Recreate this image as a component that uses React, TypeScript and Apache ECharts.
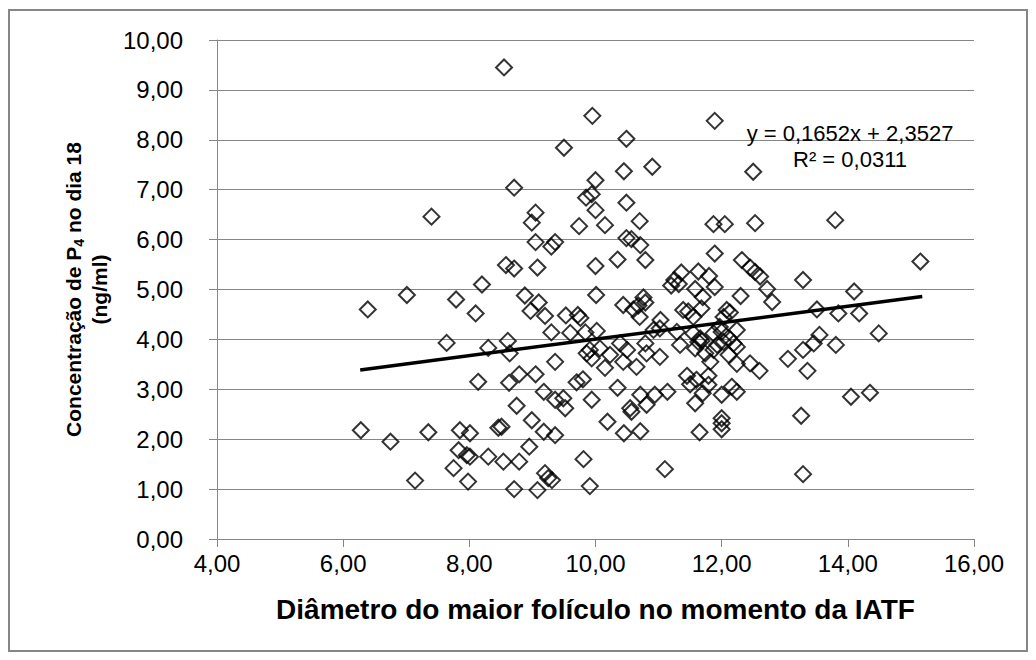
import React, { useEffect, useRef } from "react";
import * as echarts from "echarts";

// Diâmetro do maior folículo (mm) e concentração de P4 (ng/ml), pares por índice
const diametro = [
  8.55, 9.95, 10.49, 9.5, 11.89, 8.71, 10.45, 10.9, 10.0, 12.5,
  9.85, 9.94, 10.0, 10.49, 9.05, 8.99, 10.7, 9.74, 10.15, 11.87,
  12.05, 12.53, 13.8, 7.4, 9.05, 9.3, 9.36, 10.49, 10.57, 10.71,
  10.35, 10.79, 11.89, 12.32, 15.15, 8.58, 8.71, 9.08, 10.0, 8.2,
  11.36, 11.25, 11.32, 11.2, 11.63, 11.8, 11.58, 11.89, 11.7, 12.45,
  12.53, 12.61, 12.72, 12.8, 12.3, 13.29, 14.1, 7.79, 7.01, 8.88,
  9.1, 10.01, 10.76, 10.79, 6.39, 8.1, 8.97, 9.2, 9.53, 9.72,
  9.76, 10.44, 10.6, 10.68, 10.7, 11.03, 11.39, 11.47, 11.55, 11.68,
  12.08, 12.13, 12.03, 11.97, 12.24, 13.51, 13.85, 14.18, 14.49, 13.55,
  9.3, 9.6, 9.84, 10.02, 10.92, 11.02, 11.29, 11.55, 11.87, 12.0,
  11.66, 11.68, 12.03, 12.11, 7.64, 8.3, 8.61, 8.64, 9.36, 9.86,
  9.91, 10.07, 9.94, 10.15, 10.23, 10.39, 10.5, 10.44, 10.65, 10.79,
  10.81, 11.02, 11.34, 11.63, 11.58, 11.74, 11.82, 11.93, 12.19, 12.24,
  11.87, 12.11, 12.24, 12.45, 12.6, 13.46, 13.29, 13.81, 13.05, 13.36,
  8.14, 8.63, 8.79, 9.05, 9.7, 9.8, 10.35, 11.45, 11.5, 11.6,
  11.79, 11.79, 12.16, 6.28, 6.75, 7.35, 8.75, 9.18, 9.36, 9.49,
  9.52, 9.94, 10.71, 10.55, 10.57, 10.81, 10.94, 11.14, 11.7, 11.58,
  12.0, 12.24, 12.0, 12.0, 11.65, 14.05, 14.35, 13.26, 7.85, 8.01,
  8.46, 8.51, 8.99, 9.18, 9.36, 10.19, 10.45, 10.71, 7.14, 7.75,
  7.83, 7.96, 8.01, 7.98, 8.3, 8.54, 8.79, 8.95, 8.71, 9.08,
  9.2, 9.25, 9.31, 9.81, 9.91, 11.1, 13.29, 12.0,
];

const p4 = [
  9.45, 8.48, 8.02, 7.84, 8.38, 7.04, 7.37, 7.46, 7.19, 7.36,
  6.84, 6.91, 6.59, 6.74, 6.54, 6.34, 6.37, 6.27, 6.29, 6.31,
  6.31, 6.33, 6.39, 6.46, 5.95, 5.86, 5.95, 6.03, 6.01, 5.89,
  5.6, 5.59, 5.72, 5.59, 5.56, 5.49, 5.42, 5.44, 5.47, 5.1,
  5.34, 5.19, 5.11, 5.08, 5.36, 5.27, 5.01, 5.05, 4.85, 5.44,
  5.35, 5.26, 5.01, 4.75, 4.87, 5.19, 4.96, 4.8, 4.89, 4.88,
  4.74, 4.89, 4.84, 4.74, 4.6, 4.52, 4.57, 4.47, 4.48, 4.49,
  4.43, 4.69, 4.6, 4.68, 4.45, 4.39, 4.59, 4.56, 4.45, 4.62,
  4.59, 4.54, 4.45, 4.25, 4.19, 4.6, 4.52, 4.52, 4.12, 4.09,
  4.14, 4.13, 4.14, 4.17, 4.19, 4.22, 4.15, 4.12, 4.12, 4.15,
  4.02, 3.97, 3.95, 4.03, 3.93, 3.83, 3.97, 3.72, 3.55, 3.72,
  3.79, 3.82, 3.62, 3.43, 3.69, 3.92, 3.79, 3.55, 3.45, 3.92,
  3.72, 3.65, 3.89, 3.95, 3.82, 3.72, 3.55, 3.89, 3.92, 3.85,
  3.79, 3.69, 3.51, 3.52, 3.37, 3.92, 3.79, 3.89, 3.61, 3.37,
  3.15, 3.13, 3.3, 3.3, 3.14, 3.2, 3.03, 3.27, 3.1, 3.19,
  3.27, 3.09, 3.05, 2.18, 1.95, 2.14, 2.67, 2.95, 2.79, 2.82,
  2.62, 2.79, 2.89, 2.62, 2.55, 2.69, 2.89, 2.95, 2.92, 2.72,
  2.89, 2.95, 2.42, 2.2, 2.14, 2.85, 2.93, 2.47, 2.18, 2.12,
  2.23, 2.25, 2.38, 2.15, 2.08, 2.35, 2.12, 2.16, 1.17, 1.42,
  1.78, 1.68, 1.65, 1.15, 1.65, 1.55, 1.55, 1.85, 1.0, 0.98,
  1.32, 1.22, 1.18, 1.6, 1.06, 1.4, 1.3, 2.32,
];

// Linha de tendência (regressão linear)
const trendSlope = 0.1652;
const trendIntercept = 2.3527;
const trendRange = [6.27, 15.18];
const equationText = "y = 0,1652x + 2,3527";
const r2Text = "R² = 0,0311";

const xTitle = "Diâmetro do maior folículo no momento da IATF";

const FONT = '"Liberation Sans", Arial, sans-serif';
const GRAY = "#868686";

export default function App() {
  const ref = useRef<HTMLDivElement>(null);
  useEffect(() => {
    const chart = echarts.init(ref.current!, null, { renderer: "svg" });
    const fmt = (v: number) => v.toFixed(2).replace(".", ",");
    const points = diametro.map((d, i) => [d, p4[i]]);
    const trend = trendRange.map((x) => [x, trendSlope * x + trendIntercept]);
    chart.setOption({
      animation: false,
      backgroundColor: "#fff",
      textStyle: { fontFamily: FONT, color: "#000" },
      grid: { left: 217, right: 62, top: 40, bottom: 121 },
      xAxis: {
        type: "value",
        min: 4,
        max: 16,
        interval: 2,
        name: xTitle,
        nameLocation: "middle",
        nameGap: 56,
        nameTextStyle: { fontFamily: FONT, fontWeight: "bold", fontSize: 28, color: "#000" },
        axisLine: { show: true, lineStyle: { color: GRAY, width: 1 } },
        axisTick: { show: true, length: 8, lineStyle: { color: GRAY } },
        axisLabel: { formatter: fmt, fontSize: 24, color: "#000", fontFamily: FONT, margin: 12 },
        splitLine: { show: false },
      },
      yAxis: {
        type: "value",
        min: 0,
        max: 10,
        interval: 1,
        name: "{t|Concentração de P}{s|4}{t| no dia 18}\n{t|(ng/ml)}",
        nameLocation: "middle",
        nameRotate: 90,
        nameGap: 105,
        nameTextStyle: {
          fontFamily: FONT,
          fontWeight: "bold",
          fontSize: 21,
          color: "#000",
          lineHeight: 26,
          rich: {
            t: { fontFamily: FONT, fontWeight: "bold", fontSize: 21, color: "#000", lineHeight: 26 },
            s: { fontFamily: FONT, fontWeight: "bold", fontSize: 14, color: "#000", verticalAlign: "bottom", lineHeight: 20 },
          },
        },
        axisLine: { show: true, lineStyle: { color: GRAY, width: 1 } },
        axisTick: { show: true, length: 8, lineStyle: { color: GRAY } },
        axisLabel: { formatter: fmt, fontSize: 24, color: "#000", fontFamily: FONT, margin: 34 },
        splitLine: { show: true, lineStyle: { color: GRAY, width: 1 } },
      },
      graphic: [
        {
          type: "rect",
          shape: { x: 9, y: 10, width: 1018, height: 641 },
          style: { fill: "none", stroke: GRAY, lineWidth: 2 },
          silent: true,
        },
        {
          type: "text",
          x: 850,
          y: 133,
          style: {
            text: equationText,
            font: `22px ${FONT}`,
            fill: "#000",
            align: "center",
            verticalAlign: "middle",
            textAlign: "center",
            textVerticalAlign: "middle",
          },
          z: 10,
        },
        {
          type: "text",
          x: 850,
          y: 159,
          style: {
            text: r2Text,
            font: `22px ${FONT}`,
            fill: "#000",
            align: "center",
            verticalAlign: "middle",
            textAlign: "center",
            textVerticalAlign: "middle",
          },
          z: 10,
        },
      ],
      series: [
        {
          type: "scatter",
          data: points,
          symbol: "diamond",
          symbolSize: 16,
          itemStyle: { color: "rgba(255,255,255,0)", borderColor: "#000", borderWidth: 2 },
          z: 2,
        },
        {
          type: "line",
          data: trend,
          showSymbol: false,
          symbol: "none",
          lineStyle: { color: "#000", width: 3.5 },
          z: 3,
        },
      ],
    });
    return () => chart.dispose();
  }, []);
  return (
    <div
      ref={ref}
      style={{ position: "absolute", left: 0, top: 0, width: 1036, height: 660 }}
    />
  );
}
